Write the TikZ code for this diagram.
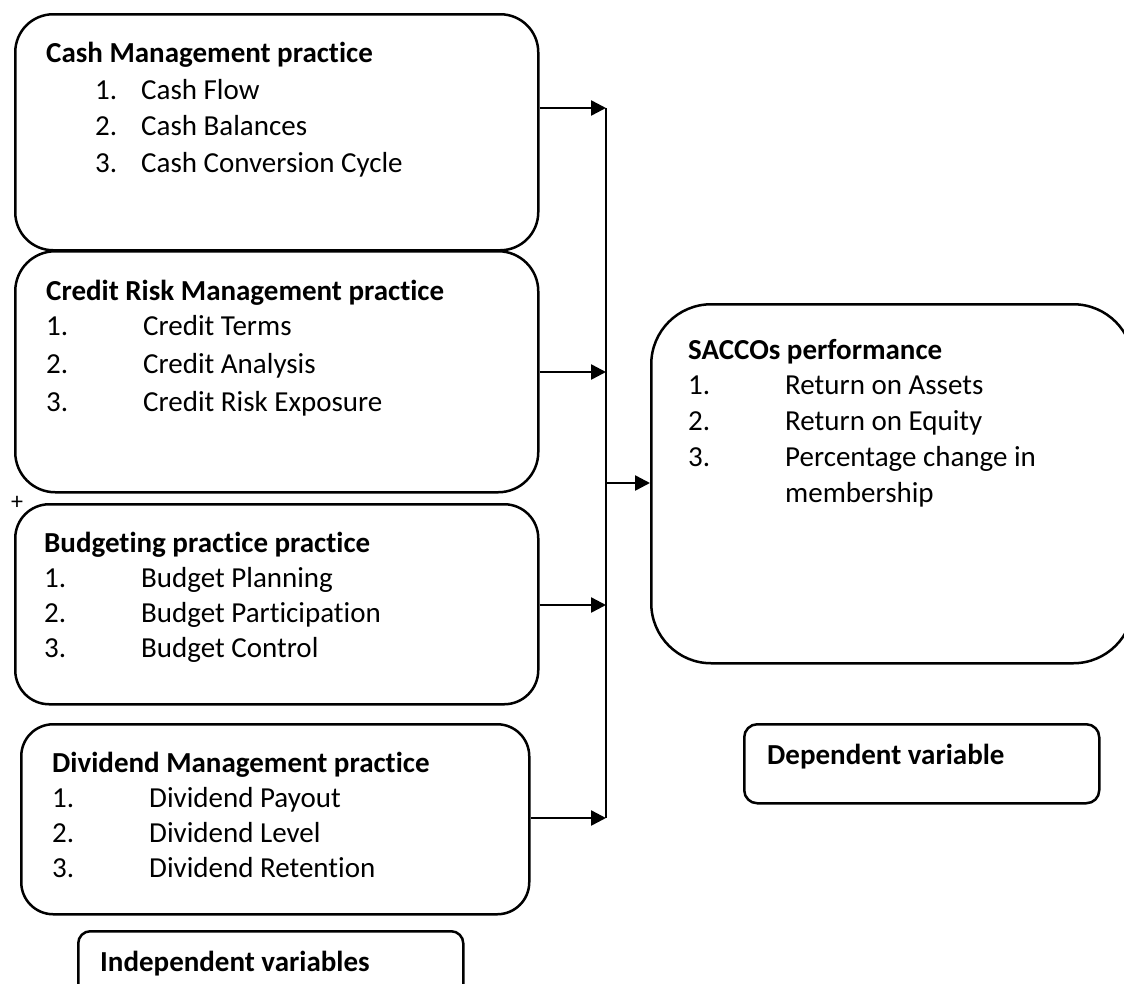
\documentclass[tikz,border=0pt]{standalone}
\usepackage{fontspec}
\setmainfont[Ligatures=NoCommon]{Carlito}
\usetikzlibrary{arrows.meta,positioning}

% numbered entry: fixed column for the number, then the text
\newcommand{\itm}[3]{\makebox[#1][l]{#2}#3}

\tikzset{
  varbox/.style={draw, line width=2.5pt, anchor=north west, inner sep=0pt},
  % text blocks are placed by the baseline of their last line
  vartext/.style={anchor=base west, align=left, inner sep=0pt,
    font=\fontsize{29}{36.5}\selectfont},
  link/.style={line width=2.5pt, -{Triangle[length=15pt,width=15pt]}},
}

\begin{document}
\begin{tikzpicture}[x=1pt,y=-1pt]
  \useasboundingbox (0,0) rectangle (1124,983);
  \clip (0,0) rectangle (1124,983);

  % independent variables
  \node[varbox, minimum width=523pt, minimum height=236pt, rounded corners=38pt] (cash) at (14,13) {};
  \node[vartext] (cashtxt) at (46,172) {\textbf{Cash Management practice}\\
    \hspace*{49pt}\itm{46pt}{1.}{Cash Flow}\\
    \hspace*{49pt}\itm{46pt}{2.}{Cash Balances}\\
    \hspace*{49pt}\itm{46pt}{3.}{Cash Conversion Cycle}};

  \node[varbox, minimum width=523pt, minimum height=241pt, rounded corners=40pt] (credit) at (14,250) {};
  \node[vartext, font=\fontsize{29}{38}\selectfont] (credittxt) at (46,411) {\textbf{Credit Risk Management practice}\\[-3pt]
    \itm{97pt}{1.}{Credit Terms}\\
    \itm{97pt}{2.}{Credit Analysis}\\
    \itm{97pt}{3.}{Credit Risk Exposure}};

  \node[varbox, minimum width=523pt, minimum height=200pt, rounded corners=34pt] (budget) at (14,503) {};
  \node[vartext, font=\fontsize{29}{35}\selectfont] (budgettxt) at (44,657) {\textbf{Budgeting practice practice}\\
    \itm{97pt}{1.}{Budget Planning}\\
    \itm{97pt}{2.}{Budget Participation}\\
    \itm{97pt}{3.}{Budget Control}};
  \node[font=\fontsize{24}{24}\selectfont, inner sep=0pt] (plus) at (17,503) {+};

  \node[varbox, minimum width=508pt, minimum height=190pt, rounded corners=32pt] (dividend) at (20,723) {};
  \node[vartext, font=\fontsize{29}{35}\selectfont] (dividendtxt) at (52,877) {\textbf{Dividend Management practice}\\
    \itm{97pt}{1.}{Dividend Payout}\\
    \itm{97pt}{2.}{Dividend Level}\\
    \itm{97pt}{3.}{Dividend Retention}};

  \node[varbox, minimum width=385pt, minimum height=90pt, rounded corners=12pt] (indep) at (77,930) {};
  \node[vartext] (indeptxt) at (100,971) {\textbf{Independent variables}};

  % dependent variable
  \node[varbox, minimum width=482pt, minimum height=359pt, rounded corners=60pt] (sacco) at (650,303) {};
  \node[vartext, font=\fontsize{29}{35.75}\selectfont] (saccotxt) at (688,502) {\textbf{SACCOs performance}\\
    \itm{97pt}{1.}{Return on Assets}\\
    \itm{97pt}{2.}{Return on Equity}\\
    \itm{97pt}{3.}{Percentage change in}\\
    \hspace*{97pt}membership};

  \node[varbox, minimum width=355pt, minimum height=79pt, rounded corners=13pt] (dep) at (743,723) {};
  \node[vartext] (deptxt) at (767,764) {\textbf{Dependent variable}};

  % collecting line and arrows
  \coordinate (t1) at (606,108);
  \coordinate (t2) at (606,372);
  \coordinate (t3) at (606,605);
  \coordinate (t4) at (606,818);
  \coordinate (t0) at (606,483);
  \draw[line width=2.5pt] (t1) -- (t4);
  \draw[link] (cash.east |- t1) -- (t1);
  \draw[link] (credit.east |- t2) -- (t2);
  \draw[link] (budget.east |- t3) -- (t3);
  \draw[link] (dividend.east |- t4) -- (t4);
  \draw[link] (t0) -- (t0 -| sacco.west);
\end{tikzpicture}
\end{document}
